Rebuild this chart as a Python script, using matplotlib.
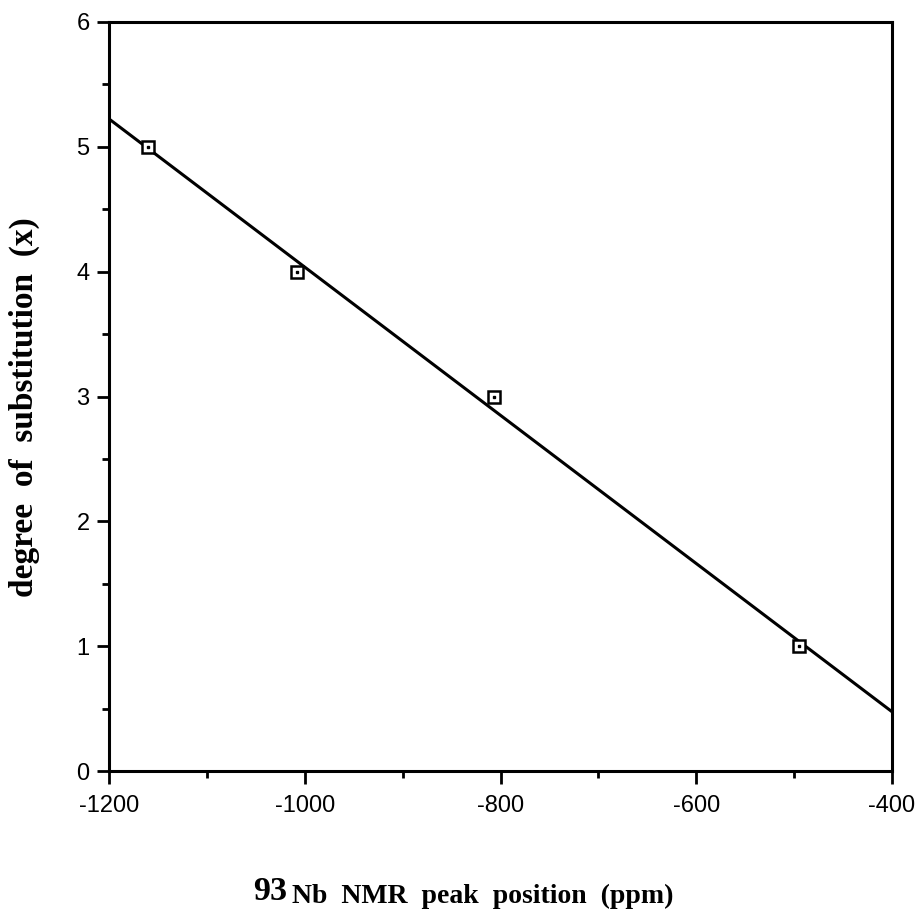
import numpy as np
import matplotlib
matplotlib.use("Agg")
import matplotlib.pyplot as plt
from matplotlib.ticker import MultipleLocator

# data
peak_ppm = [-1160, -1008, -807, -495]
substitution = [5, 4, 3, 1]
x_ticks = [-1200, -1000, -800, -600, -400]
y_ticks = [0, 1, 2, 3, 4, 5, 6]

fig = plt.figure(figsize=(9.2, 9.11), dpi=100)
W, H = 920, 911
left, right, top, bottom = 109, 892, 22, 771
ax = fig.add_axes([left / W, 1 - bottom / H, (right - left) / W, (bottom - top) / H])

# least-squares fit line
coef = np.polyfit(peak_ppm, substitution, 1)
xl = np.array([-1200, -400])
ax.plot(xl, np.polyval(coef, xl), color="black", lw=2.2, solid_capstyle="butt", zorder=2)

ax.plot(peak_ppm, substitution, linestyle="none", marker="s", markersize=9,
        markerfacecolor="white", markeredgecolor="black", markeredgewidth=1.8, zorder=3)
ax.plot(peak_ppm, substitution, linestyle="none", marker="s", markersize=2,
        markerfacecolor="black", markeredgecolor="black", zorder=4)

ax.set_xlim(-1200, -400)
ax.set_ylim(0, 6)
ax.set_xticks(x_ticks)
ax.set_yticks(y_ticks)
ax.xaxis.set_minor_locator(MultipleLocator(100))
ax.yaxis.set_minor_locator(MultipleLocator(0.5))

for s in ax.spines.values():
    s.set_linewidth(2.2)

ax.tick_params(which="major", direction="out", length=9, width=2)
ax.tick_params(which="minor", direction="out", length=5, width=2)
ax.tick_params(axis="x", which="major", pad=8)
ax.tick_params(axis="y", which="major", pad=5)

ax.set_xticklabels([str(v) for v in x_ticks])
ax.set_yticklabels([str(v) for v in y_ticks])
for lab in ax.get_xticklabels() + ax.get_yticklabels():
    lab.set_fontfamily("Liberation Sans")
    lab.set_fontsize(17)

fig.text(24 / W, 1 - 407 / H, "degree  of  substitution  (x)", rotation=90,
         ha="center", va="center", family="Liberation Serif", weight="bold", fontsize=24)

# x label: larger "93" followed by "Nb NMR peak position (ppm)"
fig.text(253 / W, 1 - 900 / H, "93", ha="left", va="baseline",
         family="Liberation Serif", weight="bold", fontsize=24.5)
fig.text(292 / W, 1 - 903 / H, "Nb  NMR  peak  position  (ppm)", ha="left", va="baseline",
         family="Liberation Serif", weight="bold", fontsize=20)

fig.savefig("out.png", dpi=100, facecolor="white")
